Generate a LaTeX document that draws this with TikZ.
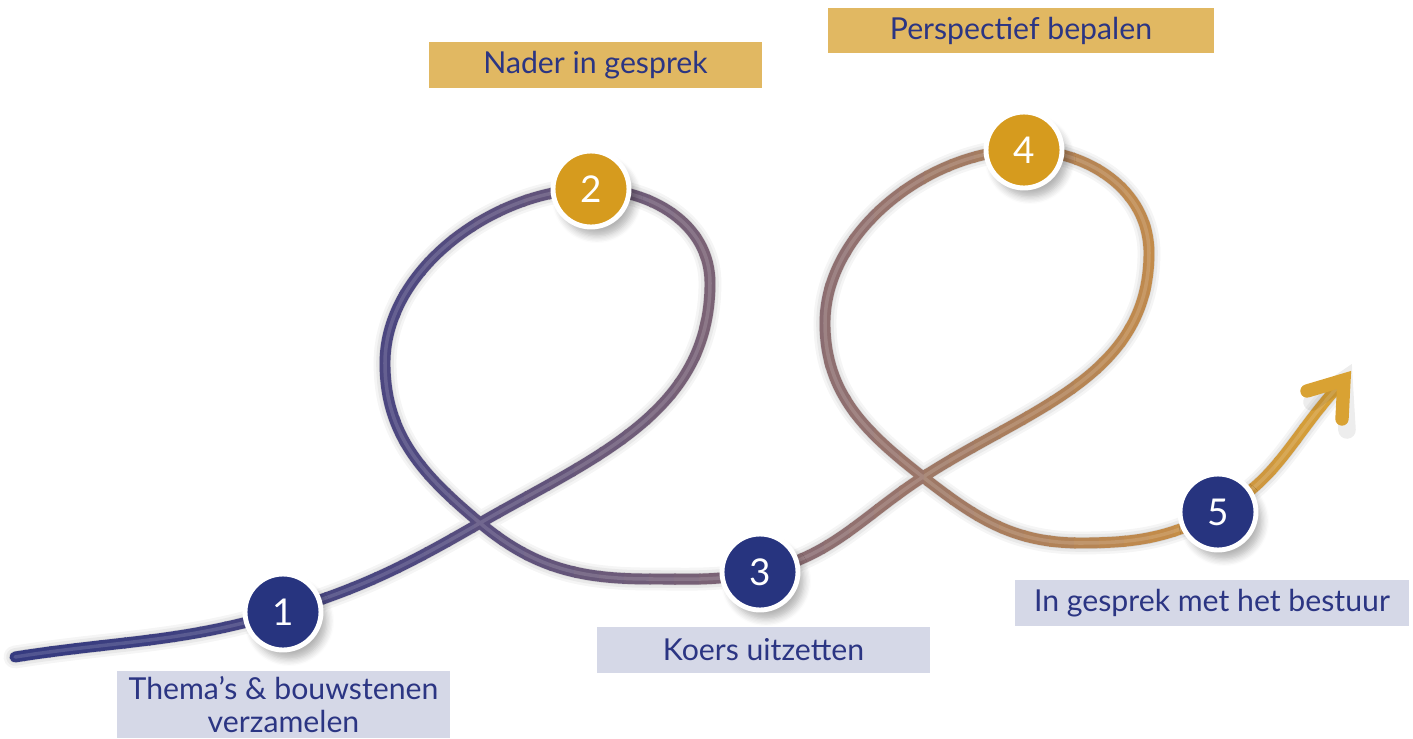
\documentclass[tikz,border=0pt]{standalone}
\usepackage{fontspec}
\setmainfont{Lato}
\usetikzlibrary{shadows.blur}

\definecolor{ropenavy}{HTML}{343A80}
\definecolor{ropepur}{HTML}{4D4880}
\definecolor{ropemauve}{HTML}{7A6275}
\definecolor{roperose}{HTML}{907070}
\definecolor{ropetan}{HTML}{C08A4C}
\definecolor{ropegold}{HTML}{D9A233}
\definecolor{dotnavy}{HTML}{27347F}
\definecolor{dotgold}{HTML}{D69B1E}
\definecolor{tagnavy}{HTML}{2B3583}
\definecolor{taggold}{HTML}{E1B862}
\definecolor{taglav}{HTML}{D5D8E7}

% the rope, through the steps and round the two loops
\newcommand{\ropepath}{(start) to[out=9,in=197] (p1) to[out=17,in=210] (cross1)
  to[out=30,in=270] (right1) to[out=90,in=0] (p2) to[out=180,in=90,looseness=0.9] (left1)
  to[out=270,in=140] (cross1) to[out=-40,in=180] (low1) to[out=0,in=192] (p3)
  to[out=12,in=213] (cross2) to[out=33,in=270] (right2) to[out=90,in=0] (p4)
  to[out=180,in=90,looseness=0.9] (left2) to[out=270,in=142] (cross2)
  to[out=-38,in=180] (low2) to[out=0,in=208] (p5) to[out=28,in=228] (end)}

\tikzset{
  ropeline/.style={line width=3.1pt, line cap=round},
  stepdot/.style={circle, draw=white, line width=1.4pt, minimum size=0.76cm, inner sep=0pt,
    text=white, font=\fontsize{10.5}{11}\selectfont,
    blur shadow={shadow xshift=0.6mm, shadow yshift=-0.9mm, shadow blur steps=6, shadow opacity=30}},
  tag/.style={text=tagnavy, inner sep=0pt, minimum height=0.46cm, align=center,
    font=\fontsize{8.6}{9.6}\selectfont}
}

\begin{document}
\begin{tikzpicture}
  \useasboundingbox (0,0) rectangle (14.13,7.38);

  \coordinate (p1) at (2.83,1.26);
  \coordinate (p2) at (5.91,5.49);
  \coordinate (p3) at (7.60,1.66);
  \coordinate (p4) at (10.24,5.88);
  \coordinate (p5) at (12.18,2.26);

  \coordinate (start)  at (0.15,0.81);
  \coordinate (cross1) at (4.80,2.15);
  \coordinate (right1) at (7.10,4.55);
  \coordinate (left1)  at (3.85,3.75);
  \coordinate (low1)   at (6.50,1.59);
  \coordinate (cross2) at (9.23,2.61);
  \coordinate (right2) at (11.49,4.85);
  \coordinate (left2)  at (8.25,4.15);
  \coordinate (low2)   at (10.80,1.95);
  \coordinate (end)    at (13.36,3.49);

  % shadow of the rope
  \foreach \w/\o in {6.5pt/0.04, 5pt/0.05, 3.5pt/0.07}
    \draw[black, opacity=\o, line width=\w, line cap=round, xshift=0.5mm, yshift=-1.1mm] \ropepath;

  % the rope, strip by strip from navy (left) to gold (right)
  \foreach \i in {0,...,56}{
    \pgfmathsetmacro\x{\i*0.25+0.125}
    \ifdim\x pt<4pt
      \pgfmathtruncatemacro\t{\x/4*100}\colorlet{ropec}{ropepur!\t!ropenavy}
    \else\ifdim\x pt<7.1pt
      \pgfmathtruncatemacro\t{(\x-4)/3.1*100}\colorlet{ropec}{ropemauve!\t!ropepur}
    \else\ifdim\x pt<8.5pt
      \pgfmathtruncatemacro\t{(\x-7.1)/1.4*100}\colorlet{ropec}{roperose!\t!ropemauve}
    \else\ifdim\x pt<11.5pt
      \pgfmathtruncatemacro\t{(\x-8.5)/3*100}\colorlet{ropec}{ropetan!\t!roperose}
    \else
      \pgfmathtruncatemacro\t{min((\x-11.5)/2*100,100)}\colorlet{ropec}{ropegold!\t!ropetan}
    \fi\fi\fi\fi
    \begin{scope}
      \clip (\i*0.25-0.01,0) rectangle (\i*0.25+0.26,7.38);
      \draw[ropec, ropeline] \ropepath;
    \end{scope}
  }
  % light on the rope
  \draw[white, opacity=0.14, line width=1pt, line cap=round, yshift=0.25mm] \ropepath;

  % arrow head
  \coordinate (tip) at (13.44,3.58);
  \draw[black, opacity=0.07, line width=5pt, line cap=round, xshift=0.5mm, yshift=-1.1mm]
    (13.07,3.47) -- (tip) -- (13.42,3.19);
  \draw[ropegold, line width=3.8pt, line cap=round, line join=miter]
    (13.07,3.47) -- (tip) -- (13.42,3.19);

  % steps
  \node[stepdot, fill=dotnavy] (n1) at (p1) {1};
  \node[stepdot, fill=dotgold] (n2) at (p2) {2};
  \node[stepdot, fill=dotnavy] (n3) at (p3) {3};
  \node[stepdot, fill=dotgold] (n4) at (p4) {4};
  \node[stepdot, fill=dotnavy] (n5) at (p5) {5};

  % labels
  \node[tag, fill=taglav, minimum width=3.33cm, minimum height=0.67cm] (t1) at (2.835,0.335) {Thema’s \& bouwstenen\\verzamelen};
  \node[tag, fill=taggold, minimum width=3.33cm] (t2) at (5.955,6.73) {Nader in gesprek};
  \node[tag, fill=taglav, minimum width=3.33cm] (t3) at (7.635,0.88) {Koers uitzetten};
  \node[tag, fill=taggold, minimum width=3.86cm, minimum height=0.45cm] (t4) at (10.21,7.075) {Perspectief bepalen};
  \node[tag, fill=taglav, minimum width=3.94cm] (t5) at (12.12,1.35) {In gesprek met het bestuur};
\end{tikzpicture}
\end{document}
